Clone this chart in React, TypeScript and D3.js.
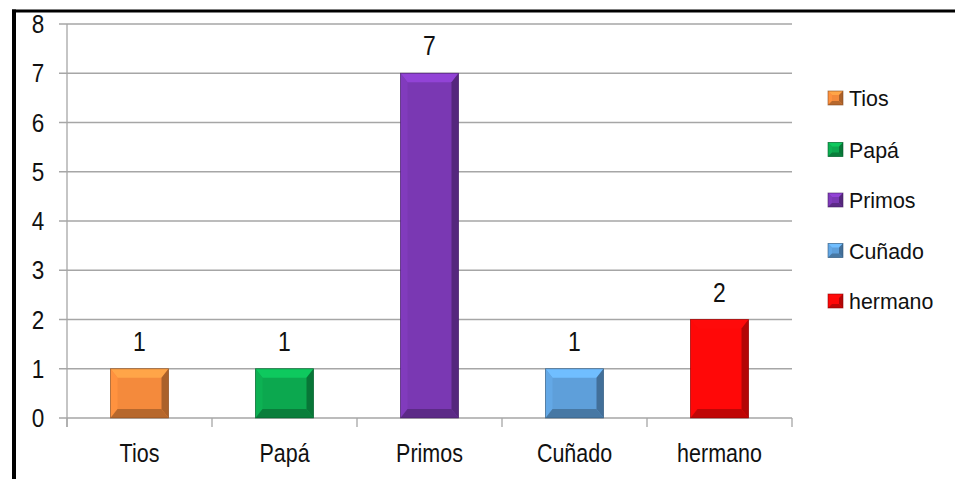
import React from "react";
import * as d3 from "d3";

const categories = ["Tios", "Papá", "Primos", "Cuñado", "hermano"];
const values = [1, 1, 7, 1, 2];
const yTicks = [0, 1, 2, 3, 4, 5, 6, 7, 8];
const faceColors = ["#F48A3C", "#0CA84F", "#7A38B3", "#5E9FDA", "#FF0808"];

const W = 955;
const H = 479;
const plotLeft = 67;
const plotRight = 792;
const plotTop = 24;
const plotBottom = 418;

function shade(c: string, k: number): string {
  const col = d3.color(c)!;
  return k >= 0 ? col.brighter(k).formatHex() : col.darker(-k).formatHex();
}

function BevelBar({ x, y, w, h, color, bx, by }: any) {
  const x1 = x + w;
  const y1 = y + h;
  const bxx = Math.min(bx, w / 2);
  const byy = Math.min(by, h / 2);
  const top = `${x},${y} ${x1},${y} ${x1 - bxx},${y + byy} ${x + bxx},${y + byy}`;
  const left = `${x},${y} ${x + bxx},${y + byy} ${x + bxx},${y1 - byy} ${x},${y1}`;
  const right = `${x1},${y} ${x1},${y1} ${x1 - bxx},${y1 - byy} ${x1 - bxx},${y + byy}`;
  const bottom = `${x},${y1} ${x + bxx},${y1 - byy} ${x1 - bxx},${y1 - byy} ${x1},${y1}`;
  return (
    <g>
      <rect x={x} y={y} width={w} height={h} fill={color} />
      <polygon points={top} fill={shade(color, 0.5)} />
      <polygon points={left} fill={shade(color, 0.15)} />
      <polygon points={right} fill={shade(color, -1.0)} />
      <polygon points={bottom} fill={shade(color, -0.8)} />
      <rect x={x} y={y} width={w} height={h} fill="none" stroke={shade(color, -1.8)} strokeWidth={0.8} strokeOpacity={0.7} />
    </g>
  );
}

export default function App() {
  const x = d3
    .scaleBand<string>()
    .domain(categories)
    .range([plotLeft, plotRight])
    .paddingInner(0.6)
    .paddingOuter(0.3);
  const y = d3.scaleLinear().domain([0, 8]).range([plotBottom, plotTop]);
  const step = (plotRight - plotLeft) / categories.length;
  const font = "'Liberation Sans', Arial, sans-serif";
  const textColor = "#111";
  const legendRows = [98, 149.5, 200, 250.5, 301];

  return (
    <svg
      width={W}
      height={H}
      style={{ position: "absolute", left: 0, top: 0, background: "#fff" }}
      fontFamily={font}
    >
      <rect x={0} y={0} width={W} height={H} fill="#fff" />
      {/* gridlines */}
      {yTicks.map((t) => (
        <line key={"g" + t} x1={plotLeft - 8} x2={plotRight} y1={y(t)} y2={y(t)} stroke="#a6a6a6" strokeWidth={1.3} />
      ))}
      {/* y axis */}
      <line x1={plotLeft} x2={plotLeft} y1={plotTop} y2={plotBottom + 9} stroke="#a6a6a6" strokeWidth={1.3} />
      {/* x ticks */}
      {d3.range(categories.length + 1).map((i) => (
        <line key={"xt" + i} x1={plotLeft + i * step} x2={plotLeft + i * step} y1={plotBottom} y2={plotBottom + 9} stroke="#a6a6a6" strokeWidth={1.3} />
      ))}
      {/* y labels */}
      {yTicks.map((t) => (
        <text
          key={"yl" + t}
          transform={`translate(38,${y(t) + 9}) scale(0.9,1)`}
          textAnchor="middle"
          fontSize={25}
          fill={textColor}
        >
          {t}
        </text>
      ))}
      {/* bars */}
      {categories.map((c, i) => (
        <BevelBar
          key={c}
          x={x(c)!}
          y={y(values[i])}
          w={x.bandwidth()}
          h={y(0) - y(values[i])}
          color={faceColors[i]}
          bx={7}
          by={9}
        />
      ))}
      {/* value labels */}
      {categories.map((c, i) => (
        <text
          key={"v" + c}
          transform={`translate(${x(c)! + x.bandwidth() / 2},${y(values[i]) - 18}) scale(0.85,1)`}
          textAnchor="middle"
          fontSize={27}
          fill={textColor}
        >
          {values[i]}
        </text>
      ))}
      {/* x labels */}
      {categories.map((c) => (
        <text
          key={"xl" + c}
          transform={`translate(${x(c)! + x.bandwidth() / 2},462) scale(0.86,1)`}
          textAnchor="middle"
          fontSize={25}
          fill={textColor}
        >
          {c}
        </text>
      ))}
      {/* legend */}
      {categories.map((c, i) => (
        <g key={"lg" + c}>
          <BevelBar x={828} y={legendRows[i] - 7} w={15} h={14} color={faceColors[i]} bx={4} by={4} />
          <text transform={`translate(849,${legendRows[i] + 8}) scale(0.93,1)`} fontSize={23} fill={textColor}>
            {c}
          </text>
        </g>
      ))}
      {/* black frame */}
      <rect x={12} y={9.5} width={4} height={H - 9.5} fill="#000" />
      <rect x={12} y={9.5} width={W - 12} height={3} fill="#000" />
    </svg>
  );
}
